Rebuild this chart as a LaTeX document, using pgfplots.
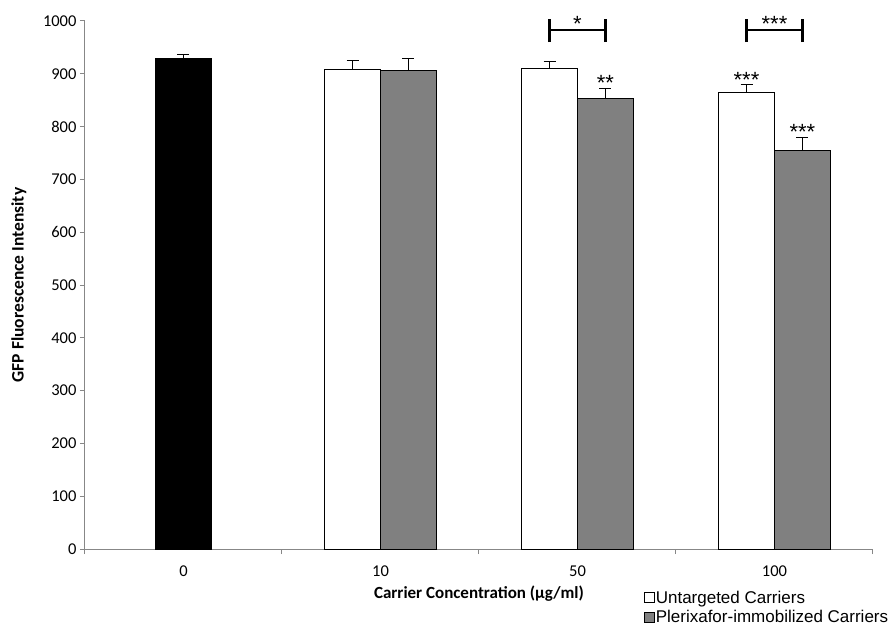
\documentclass[border=0pt]{standalone}
\usepackage{fontspec}
\setmainfont{Carlito}
\newfontfamily\arial{Liberation Sans}
\usepackage{pgfplots}
\pgfplotsset{compat=1.18}
\definecolor{axgray}{RGB}{135,135,135}
\definecolor{bargray}{RGB}{128,128,128}
\begin{document}
\begin{tikzpicture}
\begin{axis}[
  at={(0pt,0pt)}, anchor=south west,
  scale only axis, width=788pt, height=528pt,
  xmin=-0.5, xmax=3.5, ymin=0, ymax=1000,
  clip=false,
  axis x line=bottom, axis y line=left,
  axis line style={-, axgray, line width=1pt},
  tick align=outside, major tick length=5pt,
  tick style={axgray, line width=1pt},
  xtick={-0.5,0.5,1.5,2.5,3.5}, xticklabels={},
  extra x ticks={0,1,2,3}, extra x tick labels={0,10,50,100},
  extra x tick style={major tick length=0pt, tick label style={yshift=-13.5pt}},
  ytick={0,100,...,1000},
  /pgf/number format/assume math mode=true,
  /pgf/number format/set thousands separator={},
  tick label style={font=\fontsize{16.5}{19}\selectfont, black},
  every axis y label/.style={at={(axis description cs:-0.084,0.5)}, rotate=90, anchor=center},
  every axis x label/.style={at={(axis description cs:0.5,-0.085)}, anchor=center},
  ylabel={\bfseries\fontsize{17.5}{20}\selectfont GFP Fluorescence Intensity},
  xlabel={\bfseries\fontsize{17}{20}\selectfont Carrier Concentration (µg/ml)},
  legend cell align=left,
  legend style={draw=none, fill=none, at={(axis description cs:0.7094,-0.077)}, anchor=north west,
    font=\arial\fontsize{17}{20}\selectfont, inner sep=0pt, row sep=4pt,
    nodes={inner sep=1pt}},
  legend image code/.code={\draw[#1, line width=0.6pt] (0pt,-5pt) rectangle (10pt,5pt);},
]
\addplot[ybar, bar width=0.284, bar shift=0, fill=black, draw=black, line width=0.6pt, forget plot]
  coordinates {(0,929)};
\addplot[ybar, bar width=0.284, bar shift=-0.142, fill=white, draw=black, line width=0.6pt]
  coordinates {(1,908) (2,911) (3,865)};
\addlegendentry{Untargeted Carriers}
\addplot[ybar, bar width=0.284, bar shift=0.142, fill=bargray, draw=black, line width=0.6pt]
  coordinates {(1,907) (2,853) (3,755)};
\addlegendentry{Plerixafor-immobilized Carriers}
% error bars at the bar centres
\addplot[draw=none, mark=none, forget plot,
  error bars/.cd, y dir=plus, y explicit,
  error bar style={black, line width=1pt},
  error mark options={rotate=90, mark size=6pt, line width=1pt, black}]
  coordinates {(0,929) +- (0,8)
               (0.858,908) +- (0,17) (1.858,911) +- (0,12) (2.858,865) +- (0,14)
               (1.142,907) +- (0,22) (2.142,853) +- (0,19) (3.142,755) +- (0,25)};
% significance brackets
\draw[black, line width=2.6pt] (axis cs:1.858,960) -- (axis cs:1.858,1003);
\draw[black, line width=2.6pt] (axis cs:2.142,960) -- (axis cs:2.142,1003);
\draw[black, line width=2.6pt] (axis cs:1.858,983) -- (axis cs:2.142,983);
\draw[black, line width=2.6pt] (axis cs:2.858,960) -- (axis cs:2.858,1003);
\draw[black, line width=2.6pt] (axis cs:3.142,960) -- (axis cs:3.142,1003);
\draw[black, line width=2.6pt] (axis cs:2.858,983) -- (axis cs:3.142,983);
\node[font=\arial\fontsize{22}{24}\selectfont, inner sep=0pt] at (axis cs:2.0,994) {*};
\node[font=\arial\fontsize{22}{24}\selectfont, inner sep=0pt] at (axis cs:3.0,994) {***};
\node[font=\arial\fontsize{22}{24}\selectfont, inner sep=0pt] at (axis cs:2.142,882) {**};
\node[font=\arial\fontsize{22}{24}\selectfont, inner sep=0pt] at (axis cs:2.858,889) {***};
\node[font=\arial\fontsize{22}{24}\selectfont, inner sep=0pt] at (axis cs:3.142,789) {***};
\end{axis}
\pgfresetboundingbox
\useasboundingbox (-85pt,-76pt) rectangle (810pt,549pt);
\end{tikzpicture}
\end{document}
